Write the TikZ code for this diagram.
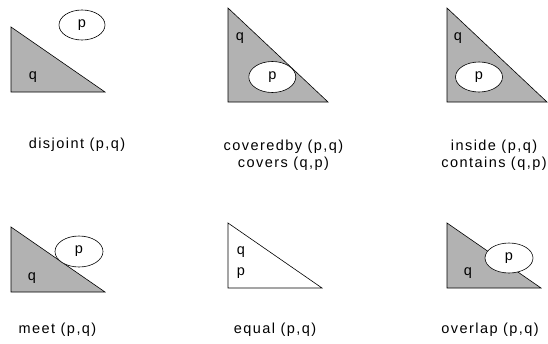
\documentclass[tikz,border=0pt]{standalone}
\usepackage{fontspec}
\setmainfont{Liberation Sans}[LetterSpace=10]
\begin{document}
\begin{tikzpicture}[x=1pt,y=-1pt,
  tri/.style={draw=black,line width=0.6pt,fill=black!30},
  wtri/.style={draw=black,line width=0.6pt,fill=white},
  ell/.style={draw=black,line width=0.6pt,fill=white},
  lbl/.style={inner sep=0pt,font=\fontsize{14.5}{17}\selectfont,align=center},
  sym/.style={inner sep=0pt,font=\fontsize{14.5}{17}\selectfont}]
\useasboundingbox (0,0) rectangle (548,343);
% disjoint
\draw[tri] (11,27) -- (11,92) -- (105,92) -- cycle;
\draw[ell] (82,25) ellipse [x radius=23, y radius=15];
\node[sym] (q1) at (33,77) {q};
\node[sym] (p1) at (82,25) {p};
\node[lbl] (l1) at (77,145) {disjoint (p,q)};
% coveredby
\draw[tri] (228,8) -- (228,102) -- (328,102) -- cycle;
\draw[ell] (272.3,77) ellipse [x radius=23.5, y radius=15.5];
\node[sym] (q2) at (240,38) {q};
\node[sym] (p2) at (272.3,77) {p};
\node[lbl] (l2) at (283.5,155) {coveredby (p,q)\\covers (q,p)};
% inside
\draw[tri] (447,8) -- (447,102) -- (547,102) -- cycle;
\draw[ell] (479,77) ellipse [x radius=23.5, y radius=15];
\node[sym] (q3) at (458,38) {q};
\node[sym] (p3) at (479,77) {p};
\node[lbl] (l3) at (494,155) {inside (p,q)\\contains (q,p)};
% meet
\draw[tri] (11,227) -- (11,292) -- (105,292) -- cycle;
\draw[ell] (79,251.5) ellipse [x radius=24, y radius=15.5];
\node[sym] (q4) at (32,278) {q};
\node[sym] (p4) at (79,251.5) {p};
\node[lbl] (l4) at (57.5,330) {meet (p,q)};
% equal
\draw[wtri] (228,223) -- (228,288) -- (322,288) -- cycle;
\node[sym] (q5) at (241,252) {q};
\node[sym] (p5) at (241,273) {p};
\node[lbl] (l5) at (275,330) {equal (p,q)};
% overlap
\draw[tri] (447,223) -- (447,288) -- (541,288) -- cycle;
\draw[ell] (509,258) ellipse [x radius=24, y radius=15];
\node[sym] (q6) at (468,273) {q};
\node[sym] (p6) at (509,258) {p};
\node[lbl] (l6) at (490,330) {overlap (p,q)};
\end{tikzpicture}
\end{document}
